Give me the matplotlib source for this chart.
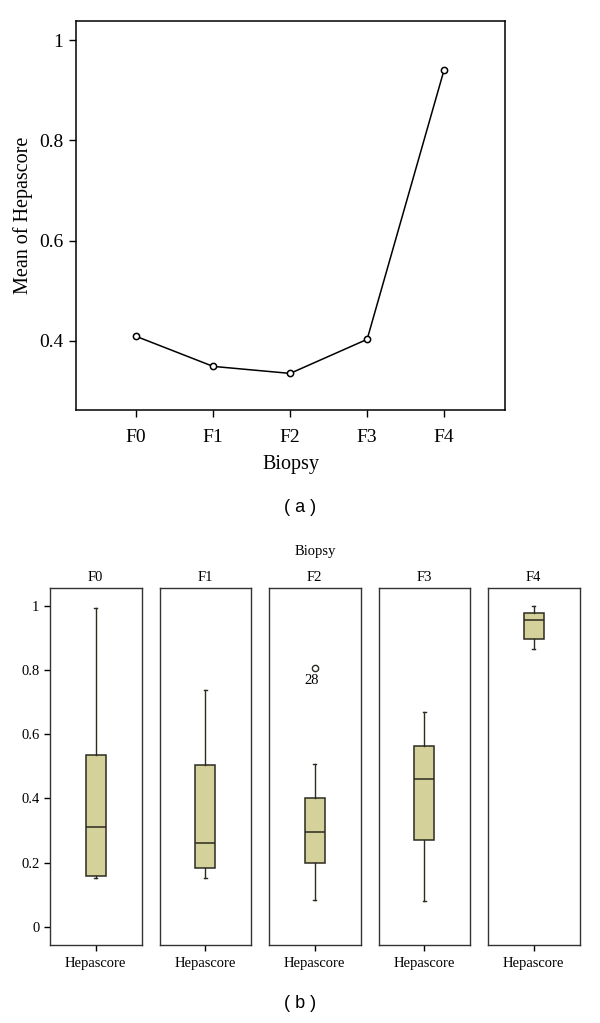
import matplotlib
matplotlib.use("Agg")
import matplotlib.pyplot as plt

# (a) mean Hepascore per biopsy stage
stages = ["F0", "F1", "F2", "F3", "F4"]
mean_score = [0.409, 0.349, 0.335, 0.403, 0.941]

# (b) box plot stats per stage
box_q1 = [0.158, 0.184, 0.199, 0.270, 0.898]
box_med = [0.312, 0.261, 0.294, 0.460, 0.956]
box_q3 = [0.536, 0.505, 0.402, 0.564, 0.978]
whisk_lo = [0.152, 0.151, 0.083, 0.081, 0.866]
whisk_hi = [0.995, 0.738, 0.508, 0.670, 1.000]
outliers = [[], [], [0.808], [], []]
outlier_ids = [[], [], ["28"], [], []]

SERIF = ["Liberation Serif", "DejaVu Serif"]
plt.rcParams["font.family"] = SERIF

fig = plt.figure(figsize=(6, 10.23), dpi=100)

# ---- top panel
ax = fig.add_axes([76 / 600, 1 - 410 / 1023, 429 / 600, 389 / 1023])
x = list(range(len(stages)))
ax.plot(x, mean_score, "-", color="black", lw=1.1,
        marker="o", mfc="white", mec="black", ms=4.5, mew=1.1)
ax.set_xlim(-0.78, 4.79)
ax.set_ylim(0.262, 1.038)
ax.set_xticks(x)
ax.set_xticklabels(stages)
ax.set_yticks([0.4, 0.6, 0.8, 1.0])
ax.set_yticklabels(["0.4", "0.6", "0.8", "1"])
ax.tick_params(labelsize=14, length=5, width=1, direction="out")
ax.tick_params(axis="x", pad=9)
ax.tick_params(axis="y", pad=4)
ax.set_xlabel("Biopsy", fontsize=14.5, labelpad=6)
ax.set_ylabel("Mean of Hepascore", fontsize=14.5)
ax.yaxis.set_label_coords(-0.100, 0.5)
for s in ax.spines.values():
    s.set_linewidth(1.1)
fig.text(0.5, 1 - 508 / 1023, "( a )", ha="center", va="center",
         fontsize=13, family=["Liberation Sans", "DejaVu Sans"])

# ---- bottom panels
left0 = 50
pw = 91.5
gap = 18
for i, st in enumerate(stages):
    bx = fig.add_axes([(left0 + i * (pw + gap)) / 600, 78.3 / 1023,
                       pw / 600, 356.4 / 1023])
    stats = [dict(med=box_med[i], q1=box_q1[i], q3=box_q3[i],
                  whislo=whisk_lo[i], whishi=whisk_hi[i],
                  fliers=outliers[i])]
    bx.bxp(stats, positions=[0], widths=0.44, patch_artist=True,
           boxprops=dict(facecolor="#d5d19b", edgecolor="#2b2b20", lw=1.1),
           medianprops=dict(color="#2b2b20", lw=1.1),
           whiskerprops=dict(color="#2b2b20", lw=1.0),
           capprops=dict(color="#2b2b20", lw=1.0),
           capwidths=0.07,
           flierprops=dict(marker="o", mfc="white", mec="#2b2b20", ms=4.5, mew=1.0))
    for v, lab in zip(outliers[i], outlier_ids[i]):
        bx.text(-0.06, v - 0.02, lab, ha="center", va="top", fontsize=10.5)
    bx.set_xlim(-1, 1)
    bx.set_ylim(-0.056, 1.055)
    bx.set_xticks([0])
    bx.set_xticklabels(["Hepascore"], fontsize=10.5)
    bx.set_title(st, fontsize=10.5, pad=5)
    bx.set_yticks([0, 0.2, 0.4, 0.6, 0.8, 1.0])
    if i == 0:
        bx.set_yticklabels(["0", "0.2", "0.4", "0.6", "0.8", "1"], fontsize=10.5)
        bx.tick_params(axis="y", length=4, width=1)
    else:
        bx.tick_params(axis="y", left=False, labelleft=False)
    bx.tick_params(axis="x", length=4, width=1, pad=5)
    for s in bx.spines.values():
        s.set_linewidth(1.0)
        s.set_color("#333333")

fig.text(315 / 600, 1 - 551 / 1023, "Biopsy", ha="center", va="center", fontsize=10.5)
fig.text(0.5, 1 - 1003 / 1023, "( b )", ha="center", va="center",
         fontsize=13, family=["Liberation Sans", "DejaVu Sans"])

fig.savefig("out.png", dpi=100)
